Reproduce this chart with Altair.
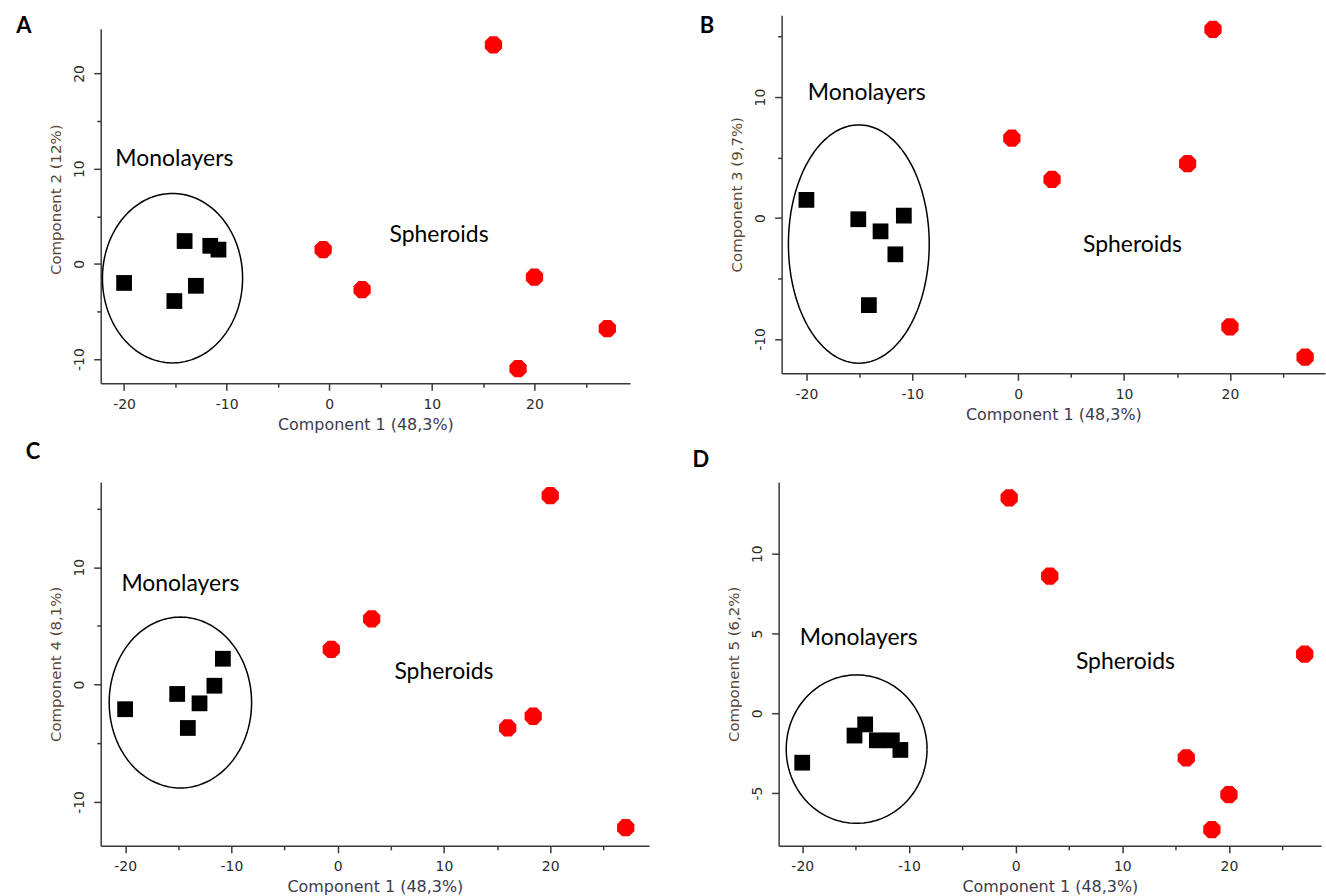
import altair as alt
import pandas as pd
import numpy as np

# ---------------- data ----------------
# Component 1 scores (shared by all four panels)
mono_pc1 = [-20.0, -15.1, -14.1, -13.0, -11.6, -10.8]
sph_pc1 = [-0.6, 3.2, 16.0, 18.4, 20.0, 27.1]

# Second coordinate of each panel
mono_pc2 = [-2.0, -3.9, 2.4, -2.3, 1.9, 1.5]
sph_pc2 = [1.5, -2.7, 23.0, -11.0, -1.4, -6.8]
mono_pc3 = [1.5, -0.1, -7.2, -1.1, -3.0, 0.2]
sph_pc3 = [6.6, 3.2, 4.5, 15.6, -9.0, -11.5]
mono_pc4 = [-2.1, -0.8, -3.7, -1.6, -0.1, 2.2]
sph_pc4 = [3.0, 5.6, -3.7, -2.7, 16.1, -12.2]
mono_pc5 = [-3.1, -1.4, -0.7, -1.7, -1.7, -2.3]
sph_pc5 = [13.5, 8.6, -2.8, -7.3, -5.1, 3.7]

panel_letters = ["A", "B", "C", "D"]
y_titles = ["Component 2 (12%)", "Component 3 (9,7%)", "Component 4 (8,1%)", "Component 5 (6,2%)"]
x_title = "Component 1 (48,3%)"
x_ticks = [-20, -15, -10, -5, 0, 5, 10, 15, 20, 25]
y_ticks = [
    [-10, -5, 0, 5, 10, 15, 20],
    [-10, -5, 0, 5, 10, 15],
    [-10, -5, 0, 5, 10, 15],
    [-5, 0, 5, 10],
]
y_major = [10, 10, 10, 5]

# group annotation positions (data units)
mono_label_x = [-15.1, -14.3, -14.8, -14.7]
mono_label_y = [11.0, 10.3, 8.6, 4.7]
sph_label_x = [10.7, 10.8, 10.0, 10.3]
sph_label_y = [3.0, -2.2, 1.05, 3.2]

# ellipse round the monolayers: centre x, centre y, half-width, half-height
ell_cx = [-15.28, -15.05, -14.8, -14.9]
ell_cy = [-1.5, -2.15, -1.53, -2.25]
ell_rx = [6.83, 6.65, 6.7, 6.6]
ell_ry = [8.9, 9.85, 7.28, 4.65]

# ---------------- layout (pixels) ----------------
widths = [531, 545, 550, 544]
heights = [369, 359, 365, 365]
x_domains = [[-22.28, 29.32], [-22.34, 28.98], [-22.3, 29.3], [-22.21, 28.63]]
y_domains = [[-12.53, 26.11], [-12.83, 16.76], [-13.74, 17.27], [-8.31, 14.5]]
# where the drawn y axis line starts below the top of the plot area
y_line_start = [14, 0, 0, 0]
# box round each panel: left, top, right, bottom margins
boxes = [(97, 14, 32, 57), (120, 14, 1, 67), (101, 42, 9, 47), (121, 42, 1, 47)]
letter_pos = [(-77, 11), (-75, 11), (-68, -30), (-78, -22)]

OCTAGON = "M-0.414,-1L0.414,-1L1,-0.414L1,0.414L0.414,1L-0.414,1L-1,0.414L-1,-0.414Z"
AXIS_COL = "#3a3a3a"


def axis(title, values, major, orient, title_color, domain=True):
    common = dict(
        title=title,
        values=values,
        grid=False,
        domain=domain,
        domainColor=AXIS_COL,
        domainWidth=1.5,
        tickColor=AXIS_COL,
        tickWidth=1.5,
        tickSize={"condition": {"test": f"datum.value % {major} === 0", "value": 7}, "value": 4},
        labelExpr=f"datum.value % {major} === 0 ? '' + datum.value : ''",
        labelOverlap=False,
        labelFlush=False,
        labelFont="DejaVu Sans",
        labelFontSize=14,
        labelColor="#2b2b2b",
        titleFont="DejaVu Sans",
        titleFontWeight="normal",
        titleColor=title_color,
    )
    if orient == "left":
        return alt.Axis(
            **common,
            titleFontSize=15,
            labelAngle=270,
            labelAlign="center",
            labelBaseline="bottom",
            labelPadding=7,
            titlePadding=9,
        )
    return alt.Axis(**common, titleFontSize=16, labelPadding=7, titlePadding=5)


def panel(i, mono_y, sph_y):
    W, H = widths[i], heights[i]
    L, T, R, B = boxes[i]
    xs = alt.Scale(domain=x_domains[i], nice=False, zero=False)
    ys = alt.Scale(domain=y_domains[i], nice=False, zero=False)
    xa = axis(x_title, x_ticks, 10, "bottom", "#3b3b4a")
    ya = axis(y_titles[i], y_ticks[i], y_major[i], "left", "#5a4535", domain=(y_line_start[i] == 0))

    def X():
        return alt.X("px:Q", scale=xs, axis=xa)

    def Y():
        return alt.Y("py:Q", scale=ys, axis=ya)

    mono = pd.DataFrame({"px": mono_pc1, "py": mono_y})
    sph = pd.DataFrame({"px": sph_pc1, "py": sph_y})

    t = np.linspace(0, 2 * np.pi, 181)
    ell = pd.DataFrame({
        "t": np.arange(len(t)),
        "px": ell_cx[i] + ell_rx[i] * np.cos(t),
        "py": ell_cy[i] + ell_ry[i] * np.sin(t),
    })
    labels = pd.DataFrame({
        "px": [mono_label_x[i], sph_label_x[i]],
        "py": [mono_label_y[i], sph_label_y[i]],
        "txt": ["Monolayers", "Spheroids"],
    })
    one = pd.DataFrame({"k": [0]})

    layers = []
    layers.append(
        alt.Chart(one).mark_rule(strokeOpacity=0, opacity=0).encode(
            x=alt.value(-L), x2=alt.value(W + R), y=alt.value(-T), y2=alt.value(H + B)
        )
    )
    if y_line_start[i] > 0:
        layers.append(
            alt.Chart(one).mark_rule(color=AXIS_COL, strokeWidth=1.5).encode(
                x=alt.value(0.5), y=alt.value(y_line_start[i]), y2=alt.value(H + 0.5)
            )
        )
    layers.append(
        alt.Chart(ell).mark_line(color="black", strokeWidth=1.5).encode(
            x=X(), y=Y(), order="t:Q"
        )
    )
    layers.append(
        alt.Chart(mono).mark_point(
            shape="square", filled=True, color="black", size=250, opacity=1
        ).encode(x=X(), y=Y())
    )
    layers.append(
        alt.Chart(sph).mark_point(
            shape=OCTAGON, filled=True, color="#ff0000", size=300, opacity=1
        ).encode(x=X(), y=Y())
    )
    layers.append(
        alt.Chart(labels).mark_text(
            font="Lato", fontSize=23, color="black", align="center", baseline="middle"
        ).encode(x=X(), y=Y(), text="txt:N")
    )
    layers.append(
        alt.Chart(one).mark_text(
            font="Lato", fontSize=22, fontWeight="bold", color="black", align="center", baseline="middle"
        ).encode(
            x=alt.value(letter_pos[i][0]),
            y=alt.value(letter_pos[i][1]),
            text=alt.value(panel_letters[i]),
        )
    )
    return alt.layer(*layers).properties(width=W, height=H)


pA = panel(0, mono_pc2, sph_pc2)
pB = panel(1, mono_pc3, sph_pc3)
pC = panel(2, mono_pc4, sph_pc4)
pD = panel(3, mono_pc5, sph_pc5)

row1 = alt.hconcat(pA, pB, spacing=0)
row2 = alt.hconcat(pC, pD, spacing=0)
chart = (
    alt.vconcat(row1, row2, spacing=0)
    .properties(padding=0, background="white")
    .configure_view(strokeWidth=0)
)

chart.save("out.html", embed_options={"renderer": "svg", "actions": False})
